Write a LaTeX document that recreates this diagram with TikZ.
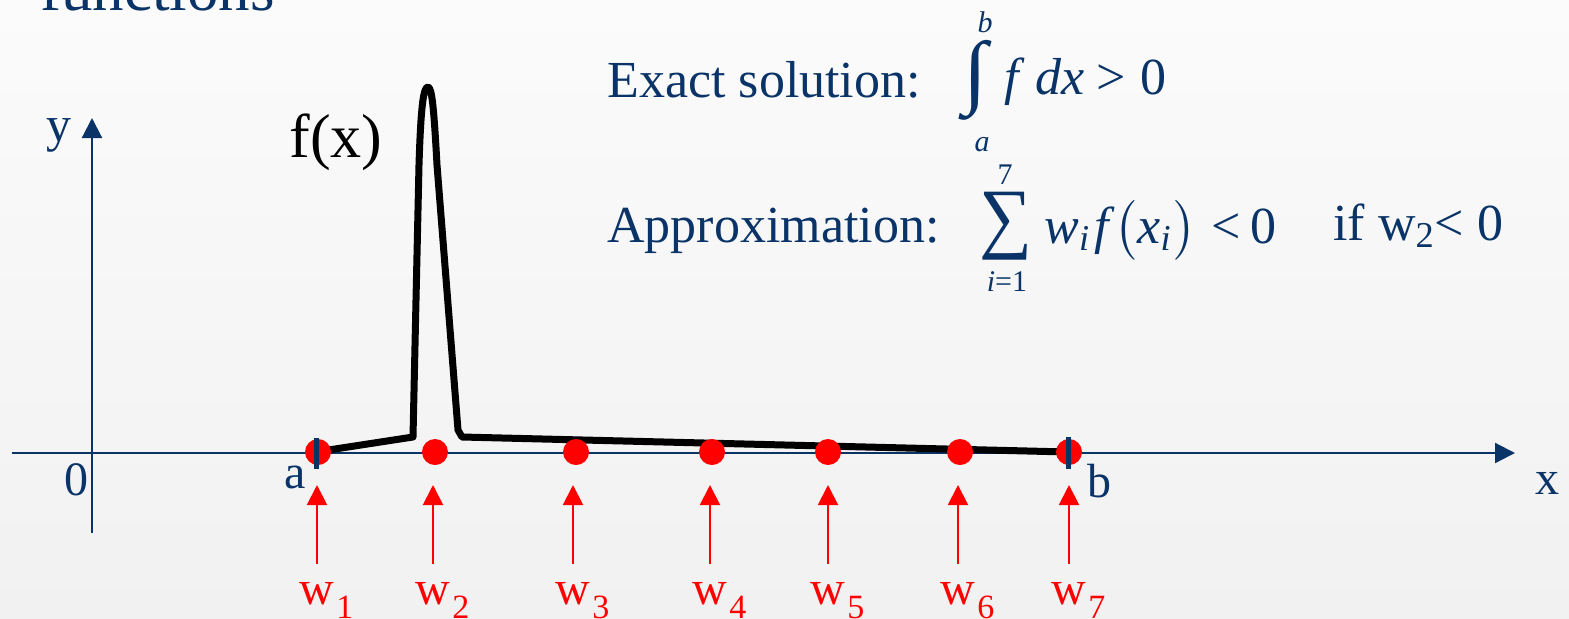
\documentclass[tikz,border=0pt]{standalone}
\usepackage{amsmath}
\usepackage{graphicx}
\usepackage{fontspec}
\setmainfont{Liberation Serif}
\usetikzlibrary{arrows.meta}
\definecolor{navy}{HTML}{0A3468}
\definecolor{bgtop}{HTML}{FBFBFB}
\definecolor{bgbottom}{HTML}{F1F1F1}
\newcommand{\pxfont}[1]{\fontsize{#1}{#1}\selectfont}

\begin{document}
\begin{tikzpicture}[x=0.5pt,y=-0.5pt,
    axis/.style={navy, line width=1.1pt, -{Triangle[length=10pt,width=10pt]}},
    weight/.style={red, line width=1pt, shorten <=9pt, -{Triangle[length=10pt,width=10pt]}},
    wlabel/.style={red, anchor=base, inner sep=0pt, font=\pxfont{24}},
    axlabel/.style={navy, anchor=base, inner sep=0pt, font=\pxfont{24}},
    formula/.style={navy, anchor=base west, inner sep=0pt, font=\pxfont{26}},
    limit/.style={navy, inner sep=0pt, font=\pxfont{15}}]

        % Background
        \useasboundingbox (0,0) rectangle (1569,618);
        \clip (0,0) rectangle (1569,618);
        \shade[top color=bgtop, bottom color=bgbottom] (0,0) rectangle (1569,618);

        % Title (cut off at the top)
        \node[navy, anchor=base west, inner sep=0pt, font=\pxfont{31.5}] (title) at (40,10) {functions};

        % Axes
        \coordinate (xfrom) at (12,453);
        \coordinate (xto) at (1515,453);
        \coordinate (yfrom) at (92,533);
        \coordinate (yto) at (92,118);
        \draw[axis] (xfrom) -- (xto);
        \draw[axis] (yfrom) -- (yto);
        \node[axlabel] (xlab) at (1547,494) {x};
        \node[axlabel, font=\pxfont{25}] (ylab) at (59,141) {y};
        \node[axlabel] (origin) at (76,495) {0};
        \node[axlabel] (alab) at (295,488) {a};
        \node[axlabel] (blab) at (1099,497) {b};

        % Function with a narrow spike
        \draw[line width=3.5pt, line join=round]
            (322,451) -- (413,437) -- (416,300) -- (419,165)
            .. controls (421,100) and (424,87) .. (428,87)
            .. controls (432,87) and (434,110) .. (437,165)
            -- (458,430) -- (462,437) -- (1068,452);
        \node[anchor=base, inner sep=0pt, font=\pxfont{31}] (flab) at (336,157) {f(x)};

        % Quadrature points and weights
        \foreach \i/\d/\a in {1/318/317,2/435/433,3/576/573,4/712/710,5/828/828,6/960/958,7/1069/1069}
        {
            \fill[red] (\d,452) circle (6.5pt);
            \node[wlabel] (w\i) at (\a,604) {w\rlap{\kern1pt\raisebox{-7pt}{\pxfont{17}\i}}};
            \coordinate (tip\i) at (\a,485);
            \draw[weight] (w\i.north) -- (tip\i);
        }

        % Interval ends
        \draw[navy, line width=2.5pt] (316,438) -- (316,469);
        \draw[navy, line width=2.5pt] (1068,437) -- (1068,469);

        % Exact solution
        \node[formula] (exact) at (607,97) {Exact solution:};
        \node[navy, inner sep=0pt] (intsign) at (975,80) {\resizebox*{12pt}{40pt}{∫}};
        \node[limit] (upper) at (985,22) {\itshape b};
        \node[limit] (lower) at (982,145) {\itshape a};
        \node[formula] (integrand) at (1004,94) {\itshape f\kern8.5pt dx\upshape\kern6pt>\kern7pt0};

        % Approximation
        \node[formula] (approx) at (607,242) {Approximation:};
        \node[navy, inner sep=0pt] (sumsign) at (1006,226) {\resizebox*{26.5pt}{34pt}{∑}};
        \node[limit] (top) at (1005,175) {7};
        \node[limit] (bottom) at (1007,282) {\itshape i\upshape=1};
        \node[formula] (summand) at (1044,243) {\itshape w\textsubscript{i}\kern2pt f\kern3pt$\bigl($x\textsubscript{i}\kern1pt$\bigr)$};
        \node[formula] (lesszero) at (1211,243) {<\kern5pt0};
        \node[formula] (ifnote) at (1333,240) {if w\textsubscript{2}< 0};

\end{tikzpicture}
\end{document}
